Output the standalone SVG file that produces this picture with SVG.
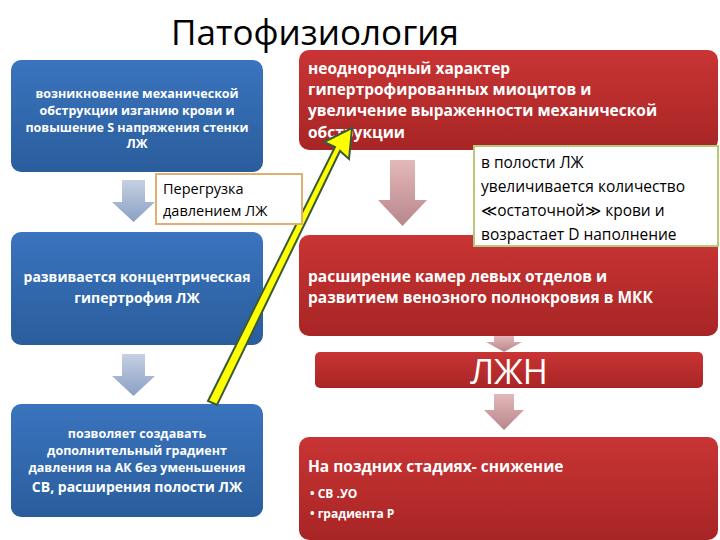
<svg xmlns="http://www.w3.org/2000/svg" width="720" height="540" viewBox="0 0 720 540">
<defs>
<linearGradient id="gb" x1="0" y1="0" x2="0" y2="1"><stop offset="0" stop-color="#3a74be"/><stop offset="1" stop-color="#2a5d9c"/></linearGradient>
<linearGradient id="gr" x1="0" y1="0" x2="0" y2="1"><stop offset="0" stop-color="#c93434"/><stop offset="1" stop-color="#a82525"/></linearGradient>
<linearGradient id="ab" x1="0" y1="0" x2="0" y2="1"><stop offset="0" stop-color="#c5d0e2"/><stop offset="1" stop-color="#8aa0c4"/></linearGradient>
<linearGradient id="ar" x1="0" y1="0" x2="0" y2="1"><stop offset="0" stop-color="#e4b8b8"/><stop offset="1" stop-color="#b8868c"/></linearGradient>
<style>
.b{fill:url(#gb)}.r{fill:url(#gr)}
.w{fill:#fff;font-family:"Open Sans","DejaVu Sans",sans-serif;font-weight:bold}
.k{fill:#000;font-family:"Open Sans","DejaVu Sans",sans-serif}
</style>
</defs>
<rect width="720" height="540" fill="#fff"/>
<g id="n1"><rect class="b" x="11" y="60" width="252" height="112" rx="10"/>
<text class="w" font-size="12.5" text-anchor="middle"><tspan x="137" y="98">возникновение механической</tspan><tspan x="137" y="115">обструкции изганию крови и</tspan><tspan x="137" y="132">повышение S напряжения стенки</tspan><tspan x="137" y="148">ЛЖ</tspan></text></g>
<g id="n3"><rect class="b" x="11" y="232" width="252" height="113" rx="10"/>
<text class="w" font-size="14" text-anchor="middle"><tspan x="137" y="282">развивается концентрическая</tspan><tspan x="137" y="303">гипертрофия ЛЖ</tspan></text></g>
<g id="n4"><rect class="b" x="11" y="404" width="252" height="113" rx="10"/>
<text class="w" font-size="12.5" text-anchor="middle"><tspan x="137" y="438">позволяет создавать</tspan><tspan x="137" y="455">дополнительный градиент</tspan><tspan x="137" y="472">давления на АК без уменьшения</tspan><tspan x="137" y="492" font-size="14">СВ, расширения полости ЛЖ</tspan></text></g>
<g id="n5"><rect class="r" x="299" y="50" width="419" height="100" rx="10"/>
<text class="w" font-size="15.5"><tspan x="308" y="74">неоднородный характер</tspan><tspan x="308" y="95">гипертрофированных миоцитов и</tspan><tspan x="308" y="116">увеличение выраженности механической</tspan><tspan x="308" y="138">обструкции</tspan></text></g>
<g id="n7"><rect class="r" x="299" y="235" width="419" height="101" rx="10"/>
<text class="w" font-size="15.5"><tspan x="308" y="282">расширение камер левых отделов и</tspan><tspan x="308" y="303">развитием венозного полнокровия в МКК</tspan></text></g>
<g id="n6"><rect x="474" y="146" width="244" height="100" fill="#fff" stroke="#b6c97a" stroke-width="2"/>
<text class="k" font-size="15.5"><tspan x="481" y="168">в полости ЛЖ</tspan><tspan x="481" y="192">увеличивается количество</tspan><tspan x="481" y="216">≪остаточной≫ крови и</tspan><tspan x="481" y="240">возрастает D наполнение</tspan></text></g>
<g id="n8"><rect class="r" x="315" y="352" width="388" height="36" rx="5"/>
<text x="509" y="384" text-anchor="middle" fill="#fff" font-family="Open Sans,DejaVu Sans,sans-serif" font-size="34">ЛЖН</text></g>
<g id="n9"><rect class="r" x="299" y="437" width="419" height="103" rx="10"/>
<text class="w" font-size="15.5" x="308" y="472">На поздних стадиях- снижение</text>
<text class="w" font-size="12"><tspan x="310" y="498">• СВ .УО</tspan><tspan x="310" y="518">•  градиента Р</tspan></text></g>
<g id="connectors">
<path d="M122 180h23v22h10l-21.5 20-21.5-20h10z" fill="url(#ab)"/>
<path d="M122 354h23v22h10l-21.5 20-21.5-20h10z" fill="url(#ab)"/>
<path d="M390 160h25v40h12l-24.5 26-24.5-26h12z" fill="url(#ar)"/>
<path d="M494 336h20v6h8l-18 10-18-10h8z" fill="url(#ar)"/>
<path d="M494 394h20v16h10l-20 20-20-20h10z" fill="url(#ar)"/>
<path d="M208 401L335 147L324 142L352 128L349 159L340 151L217 405Z" fill="#ffff00" stroke="#3b5a3a" stroke-width="2"/>
</g>
<g id="n2"><rect x="156" y="174" width="146" height="50" fill="#fff" stroke="#e0b070" stroke-width="2"/>
<text class="k" font-size="14.5"><tspan x="163" y="194">Перегрузка</tspan><tspan x="163" y="216">давлением ЛЖ</tspan></text></g>
<text x="315" y="45" text-anchor="middle" class="k" font-size="35">Патофизиология</text>
</svg>
